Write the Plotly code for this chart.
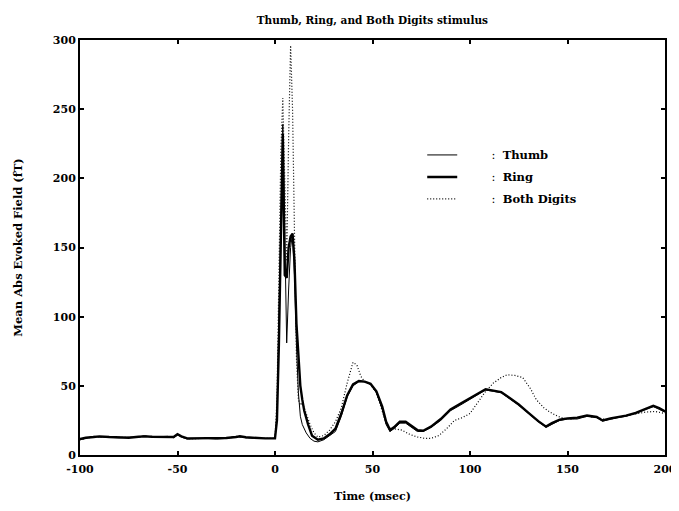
import plotly.graph_objects as go

# Pre-stimulus baseline
pre_t = [-100, -97, -93, -90, -85, -80, -75, -70, -67, -63, -60, -55, -52, -50, -48, -45,
         -40, -35, -30, -25, -20, -18, -15, -10, -5, 0]
pre_thumb = [11, 12, 13.5, 13, 12.5, 12.5, 12.8, 13, 14, 13, 13.2, 13.5, 12.5, 14.5, 13, 11.5,
             11.8, 12, 11.5, 12, 13.5, 13, 12.5, 12, 12, 12]
pre_ring = [11.5, 12.5, 13, 13.5, 13, 12.8, 12.5, 13.2, 13.5, 13.2, 13, 13, 13, 15, 13.5, 12,
            12, 11.8, 12, 12.3, 13, 13.5, 12.8, 12.3, 12, 12]
pre_both = [11, 12.2, 13, 13.2, 12.7, 12.6, 12.7, 13, 13.6, 13, 13.1, 13.3, 12.7, 14.6, 13.2, 11.8,
            11.9, 11.9, 11.7, 12.1, 13.2, 13.2, 12.6, 12.1, 12, 12]

thumb_t = [1, 2, 3, 4, 5, 6, 7, 8, 9, 10, 11, 12, 13, 14, 16, 18, 20, 22, 25, 28, 31, 34, 37,
           40, 43, 46, 49, 52, 55, 57, 59, 61, 64, 67, 70, 73, 76, 80, 85, 90, 95, 100, 105,
           108, 112, 116, 120, 125, 130, 135, 139, 142, 146, 150, 155, 160, 165, 168, 172,
           176, 180, 185, 190, 194, 197, 200]
thumb_v = [30, 90, 170, 239, 150, 81, 120, 150, 160, 130, 80, 45, 28, 22, 16, 12, 10, 9.5, 11,
           14, 17, 28, 42, 50, 53, 53, 51, 45, 33, 22, 17, 19, 23, 23, 20, 17, 17, 20, 25, 32,
           36, 40, 44, 47, 46, 45, 41, 36, 30, 24, 20, 22, 25, 26, 26, 28, 27, 24.5, 26, 27,
           28, 30, 33, 35, 33, 31]

ring_t = [1, 2, 3, 4, 5, 6, 7, 8, 9, 10, 11, 12, 13, 14, 15, 17, 19, 22, 25, 28, 31, 34, 37,
          40, 43, 46, 49, 52, 55, 57, 59, 61, 64, 67, 70, 73, 76, 80, 85, 90, 95, 100, 105,
          108, 112, 116, 120, 125, 130, 135, 139, 142, 146, 150, 155, 160, 165, 168, 172,
          176, 180, 185, 190, 194, 197, 200]
ring_v = [25, 80, 170, 232, 130, 128, 150, 158, 160, 140, 95, 70, 50, 40, 32, 22, 14, 11, 12,
          15, 19, 30, 43, 51, 53.5, 53, 51.5, 46, 35, 24, 18, 20, 24, 24, 21, 18, 17.5, 20.5,
          26, 33, 37, 41, 45, 47.5, 46.5, 45.5, 41.5, 36.5, 30.5, 24.5, 20.5, 23, 25.5, 26.5,
          27, 28.5, 27.5, 25, 26.5, 27.5, 28.5, 30.5, 33.5, 35.5, 34, 31.5]

both_t = [1, 2, 3, 4, 5, 6, 7, 8, 9, 10, 11, 12, 13, 14, 16, 18, 20, 22, 25, 28, 31, 34, 37,
          40, 42, 44, 46, 49, 52, 55, 57, 59, 62, 65, 69, 73, 77, 80, 84, 88, 92, 96, 100,
          104, 108, 112, 116, 119, 123, 127, 131, 134, 138, 141, 145, 148, 152, 156, 160,
          165, 170, 175, 180, 185, 190, 195, 200]
both_v = [40, 130, 220, 258, 190, 140, 230, 296, 250, 150, 70, 40, 36, 38, 30, 22, 16, 13, 14,
          18, 24, 34, 52, 67, 65, 57, 53, 51, 45, 32, 23, 19.5, 19, 18, 15, 13, 12, 12, 14,
          19, 25, 27, 30, 38, 46, 52, 56, 58, 57.5, 56, 48, 40, 34, 31, 28, 26.5, 26, 27, 28,
          27, 25.5, 27, 28.5, 30, 31, 31.5, 30]

x_ticks = [-100, -50, 0, 50, 100, 150, 200]
y_ticks = [0, 50, 100, 150, 200, 250, 300]

font_family = "DejaVu Serif"
gap = "\u00a0" * 8

fig = go.Figure()
fig.add_trace(go.Scatter(x=pre_t + thumb_t, y=pre_thumb + thumb_v, mode="lines",
                         name=gap + ":  <b>Thumb</b>", legendgroup="a",
                         line=dict(color="black", width=1)))
fig.add_trace(go.Scatter(x=pre_t + ring_t, y=pre_ring + ring_v, mode="lines",
                         name=gap + ":  <b>Ring</b>", legendgroup="b",
                         line=dict(color="black", width=2.4)))
fig.add_trace(go.Scatter(x=pre_t + both_t, y=pre_both + both_v, mode="lines",
                         name=gap + ":  <b>Both Digits</b>", legendgroup="c",
                         line=dict(color="black", width=1.2, dash="1px,2px")))

axis_common = dict(showgrid=False, zeroline=False, showline=True, linecolor="black",
                   linewidth=2, mirror="ticks", ticks="inside", ticklen=4, tickwidth=1.5,
                   tickcolor="black", automargin=False,
                   tickfont=dict(family=font_family, size=11, color="black", weight="bold"))

fig.update_layout(
    width=671, height=503,
    margin=dict(l=72, r=14, t=32, b=56),
    paper_bgcolor="white", plot_bgcolor="white",
    title=dict(text="<b>Thumb, Ring, and Both Digits stimulus</b>", x=0.543, xanchor="center",
               y=0.976, yanchor="middle",
               font=dict(family=font_family, size=10.5, color="black")),
    xaxis=dict(range=[-100, 200], tickvals=x_ticks, ticktext=[str(v) for v in x_ticks],
               ticklabelstandoff=3,
               title=dict(text="<b>Time (msec)</b>", standoff=17,
                          font=dict(family=font_family, size=11, color="black")),
               **axis_common),
    yaxis=dict(range=[0, 300], tickvals=y_ticks, ticktext=[str(v) for v in y_ticks],
               title=dict(text="<b>Mean Abs Evoked Field (fT)</b>", standoff=28,
                          font=dict(family=font_family, size=11.5, color="black")),
               **axis_common),
    legend=dict(x=0.585, y=0.758, xanchor="left", yanchor="top", bgcolor="rgba(0,0,0,0)",
                font=dict(family=font_family, size=11.5, color="black"),
                tracegroupgap=3),
    showlegend=True,
)

fig.write_html("out.html")
